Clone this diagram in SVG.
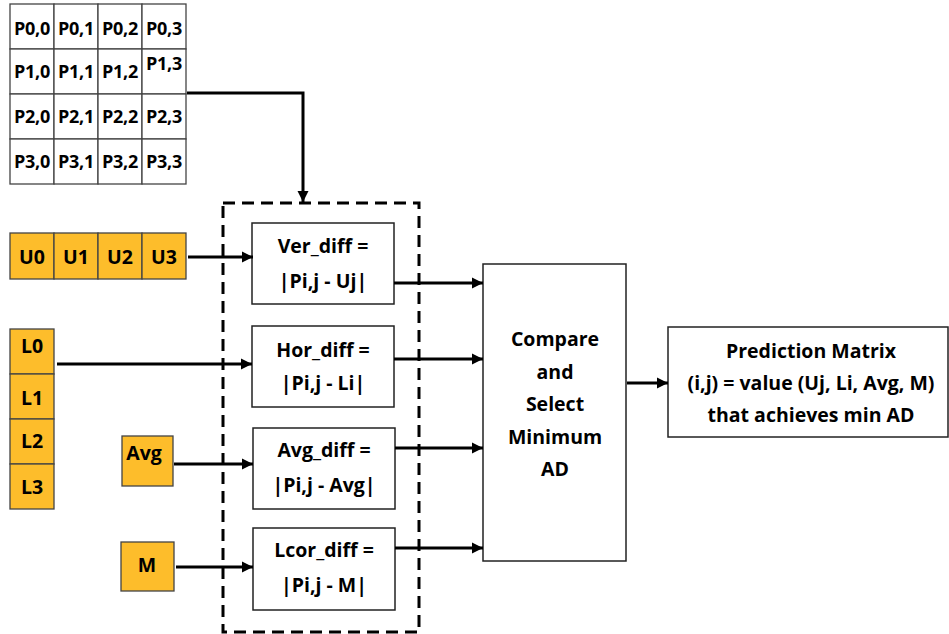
<svg xmlns="http://www.w3.org/2000/svg" width="949" height="634" viewBox="0 0 949 634">
<style>
text{font-family:"Open Sans","Lato","Liberation Sans",sans-serif;font-weight:bold;fill:#000;text-anchor:middle}
.cell{fill:#fff;stroke:#444;stroke-width:1.3}
.org{fill:#FDBD2B;stroke:#444;stroke-width:1.3}
.box{fill:#fff;stroke:#222;stroke-width:1.5}
.p{font-size:18px;letter-spacing:-0.3px}
.t{font-size:19.5px}
.w{stroke:#000;stroke-width:3;fill:none}
</style>
<defs>
<marker id="ah" markerUnits="userSpaceOnUse" markerWidth="12" markerHeight="12" refX="11" refY="6" orient="auto">
<path d="M0,0.5 L11,6 L0,11.5 z" fill="#000"/>
</marker>
</defs>
<rect width="949" height="634" fill="#fff"/>
<g id="pgrid">
<rect class="cell" x="10" y="4" width="44" height="45"/><rect class="cell" x="54" y="4" width="44" height="45"/><rect class="cell" x="98" y="4" width="44" height="45"/><rect class="cell" x="142" y="4" width="44" height="45"/>
<rect class="cell" x="10" y="49" width="44" height="45"/><rect class="cell" x="54" y="49" width="44" height="45"/><rect class="cell" x="98" y="49" width="44" height="45"/><rect class="cell" x="142" y="49" width="44" height="45"/>
<rect class="cell" x="10" y="94" width="44" height="45"/><rect class="cell" x="54" y="94" width="44" height="45"/><rect class="cell" x="98" y="94" width="44" height="45"/><rect class="cell" x="142" y="94" width="44" height="45"/>
<rect class="cell" x="10" y="139" width="44" height="45"/><rect class="cell" x="54" y="139" width="44" height="45"/><rect class="cell" x="98" y="139" width="44" height="45"/><rect class="cell" x="142" y="139" width="44" height="45"/>
<text class="p" x="32" y="35">P0,0</text><text class="p" x="76" y="35">P0,1</text><text class="p" x="120" y="35">P0,2</text><text class="p" x="164" y="35">P0,3</text>
<text class="p" x="32" y="78">P1,0</text><text class="p" x="76" y="78">P1,1</text><text class="p" x="120" y="78">P1,2</text><text class="p" x="164" y="70">P1,3</text>
<text class="p" x="32" y="123">P2,0</text><text class="p" x="76" y="123">P2,1</text><text class="p" x="120" y="123">P2,2</text><text class="p" x="164" y="123">P2,3</text>
<text class="p" x="32" y="168">P3,0</text><text class="p" x="76" y="168">P3,1</text><text class="p" x="120" y="168">P3,2</text><text class="p" x="164" y="168">P3,3</text>
</g>
<g id="urow">
<rect class="org" x="10" y="233" width="44" height="46"/><rect class="org" x="54" y="233" width="44" height="46"/><rect class="org" x="98" y="233" width="44" height="46"/><rect class="org" x="142" y="233" width="44" height="46"/>
<text class="t" x="32" y="264">U0</text><text class="t" x="76" y="264">U1</text><text class="t" x="120" y="264">U2</text><text class="t" x="164" y="264">U3</text>
</g>
<g id="lcol">
<rect class="org" x="10" y="329" width="44" height="45"/><rect class="org" x="10" y="374" width="44" height="45"/><rect class="org" x="10" y="419" width="44" height="45"/><rect class="org" x="10" y="464" width="44" height="45"/>
<text class="t" x="32" y="353">L0</text><text class="t" x="32" y="405">L1</text><text class="t" x="32" y="448">L2</text><text class="t" x="32" y="494">L3</text>
</g>
<g id="avg">
<rect class="org" x="122" y="436" width="51" height="50"/>
<text class="t" x="144" y="460">Avg</text>
</g>
<g id="m">
<rect class="org" x="121" y="542" width="53" height="49"/>
<text class="t" x="147" y="572">M</text>
</g>
<g id="group">
<rect x="223" y="203" width="196" height="429" fill="none" stroke="#000" stroke-width="3" stroke-dasharray="12,7"/>
</g>
<g id="ver">
<rect class="box" x="252" y="223" width="142" height="81"/>
<text class="t" x="323" y="253">Ver_diff =</text><text class="t" x="323" y="288">|Pi,j - Uj|</text>
</g>
<g id="hor">
<rect class="box" x="252" y="326" width="142" height="81"/>
<text class="t" x="323" y="357">Hor_diff =</text><text class="t" x="323" y="390">|Pi,j - Li|</text>
</g>
<g id="avgdiff">
<rect class="box" x="253" y="428" width="142" height="81"/>
<text class="t" x="324" y="457">Avg_diff =</text><text class="t" x="324" y="492">|Pi,j - Avg|</text>
</g>
<g id="lcor">
<rect class="box" x="253" y="528" width="142" height="82"/>
<text class="t" x="324" y="557">Lcor_diff =</text><text class="t" x="324" y="592">|Pi,j - M|</text>
</g>
<g id="compare">
<rect class="box" x="483" y="264" width="143" height="297"/>
<text class="t" x="555" y="346">Compare</text><text class="t" x="555" y="379">and</text><text class="t" x="555" y="411">Select</text><text class="t" x="555" y="444">Minimum</text><text class="t" x="555" y="476">AD</text>
</g>
<g id="prediction">
<rect class="box" x="668" y="327" width="280" height="110"/>
<text class="t" x="811" y="358">Prediction Matrix</text><text class="t" x="811" y="390">(i,j) = value (Uj, Li, Avg, M)</text><text class="t" x="811" y="422">that achieves min AD</text>
</g>
<g id="connectors">
<path class="w" d="M187,93 H303 V202" marker-end="url(#ah)"/>
<path class="w" d="M188,257 H253" marker-end="url(#ah)"/>
<path class="w" d="M57,364 H252" marker-end="url(#ah)"/>
<path class="w" d="M174,464 H253" marker-end="url(#ah)"/>
<path class="w" d="M176,567 H253" marker-end="url(#ah)"/>
<path class="w" d="M394,283 H483" marker-end="url(#ah)"/>
<path class="w" d="M394,359 H483" marker-end="url(#ah)"/>
<path class="w" d="M395,448 H483" marker-end="url(#ah)"/>
<path class="w" d="M395,548 H483" marker-end="url(#ah)"/>
<path class="w" d="M627,383 H668" marker-end="url(#ah)"/>
</g>
</svg>
